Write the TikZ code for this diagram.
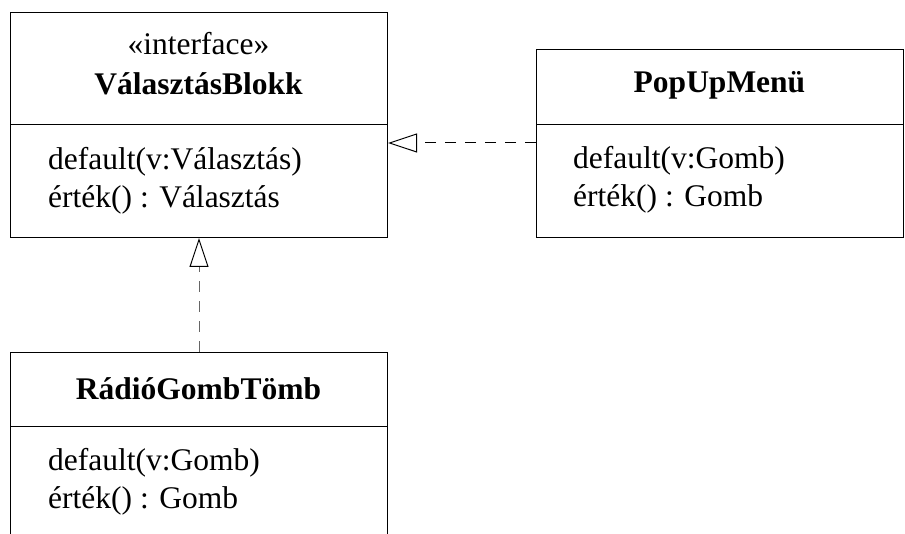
\documentclass[tikz,border=0pt]{standalone}
\usepackage{fontspec}
\setmainfont{Liberation Serif}
\usetikzlibrary{arrows.meta}

\tikzset{
  classbox/.style={draw=black, line width=1pt, rectangle, inner sep=0pt, anchor=north west, fill=white},
  classname/.style={anchor=base, font=\fontsize{31.5}{38}\selectfont\bfseries, inner sep=0pt},
  stereo/.style={anchor=base, font=\fontsize{31.5}{38}\selectfont, inner sep=0pt},
  member/.style={anchor=base west, font=\fontsize{31.5}{38}\selectfont, inner sep=0pt},
  divider/.style={line width=1pt},
  realizes/.style={line width=1pt, dash pattern=on 11pt off 9pt,
    -{Triangle[open, length=29pt, width=19pt, line width=1pt, color=black]}}
}

\begin{document}
\begin{tikzpicture}[x=1pt, y=-1pt]
  \useasboundingbox (0,0) rectangle (905,534);
  \clip (0,0) rectangle (905,534);

  % interface ValasztasBlokk
  \node[classbox, minimum width=377pt, minimum height=225pt] (iface) at (10,12) {};
  \draw[divider] (10,125) -- (387,125);
  \node[stereo] (ifaceStereo) at (198.5,55) {«interface»};
  \node[classname] (ifaceName) at (198.5,95) {VálasztásBlokk};
  \node[member] (ifaceOp1) at (48,170) {default(v:Választás)};
  \node[member] (ifaceOp2) at (48,208) {érték() : Választás};

  % class PopUpMenu
  \node[classbox, minimum width=367pt, minimum height=188pt] (popup) at (536,49) {};
  \draw[divider] (536,125) -- (903,125);
  \node[classname] (popupName) at (719.5,93) {PopUpMenü};
  \node[member] (popupOp1) at (573,168.5) {default(v:Gomb)};
  \node[member] (popupOp2) at (573,207) {érték() : Gomb};

  % class RadioGombTomb
  \node[classbox, minimum width=377pt, minimum height=230pt] (radio) at (10,352) {};
  \draw[divider] (10,427) -- (387,427);
  \node[classname] (radioName) at (198.5,400) {RádióGombTömb};
  \node[member] (radioOp1) at (48,470) {default(v:Gomb)};
  \node[member] (radioOp2) at (48,508) {érték() : Gomb};

  % realization connectors
  \coordinate (popupPort) at (popup.west |- 0,143);
  \coordinate (ifacePort) at (iface.east |- 0,143);
  \draw[realizes] (popupPort) -- (ifacePort);
  \draw[realizes, draw=black!60] (radio.north) -- (iface.south);
\end{tikzpicture}
\end{document}
